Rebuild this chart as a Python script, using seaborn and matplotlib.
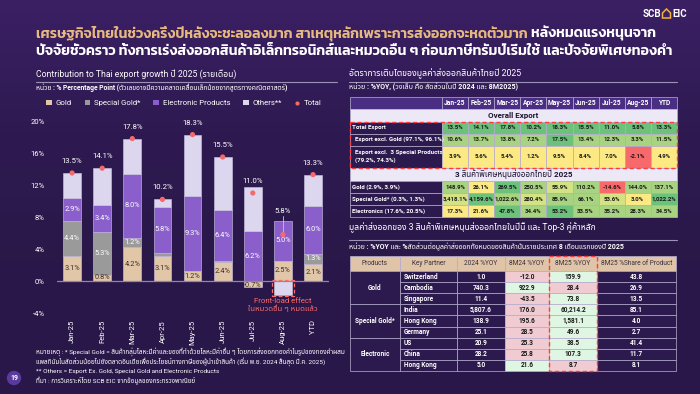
import matplotlib
matplotlib.use("Agg")
import matplotlib.pyplot as plt
from matplotlib.patches import Rectangle, Patch, Circle, Polygon
from matplotlib.lines import Line2D
from matplotlib.colors import LinearSegmentedColormap
import numpy as np
import seaborn as sns

# ---------------- data ----------------
months = ["Jan-25", "Feb-25", "Mar-25", "Apr-25", "May-25", "Jun-25", "Jul-25", "Aug-25", "YTD"]
gold = [3.1, 0.8, 4.2, 3.1, 1.2, 2.4, -0.7, 2.5, 2.1]
special_gold = [4.4, 5.3, 1.2, 0.4, 0.1, 0.1, 0.0, 0.0, 1.3]
electronics = [2.9, 3.4, 8.0, 5.8, 9.3, 6.4, 6.2, 5.0, 6.0]
others = [3.1, 4.6, 4.4, 0.9, 7.7, 6.6, 5.5, -1.7, 3.9]
totals = [13.5, 14.1, 17.8, 10.2, 18.3, 15.5, 11.0, 5.8, 13.3]
y_ticks = [-4, 0, 4, 8, 12, 16, 20]

t1_cols = ["Jan-25", "Feb-25", "Mar-25", "Apr-25", "May-25", "Jun-25", "Jul-25", "Aug-25", "YTD"]
t1_rows_a = ["Total Export", "Export excl. Gold (97.1%, 96.1%)",
             "Export excl.  3 Special Products\n(79.2%, 74.3%)"]
t1_vals_a = [
    [13.5, 14.1, 17.8, 10.2, 18.3, 15.5, 11.0, 5.8, 13.3],
    [10.6, 13.7, 13.8, 7.2, 17.5, 13.4, 12.3, 3.3, 11.5],
    [3.9, 5.6, 5.4, 1.2, 9.5, 8.4, 7.0, -2.1, 4.9],
]
t1_rows_b = ["Gold (2.9%, 3.9%)", "Special Gold* (0.3%, 1.3%)", "Electronics (17.6%, 20.5%)"]
t1_vals_b = [
    [148.9, 26.1, 269.5, 250.5, 55.9, 110.2, -14.6, 144.0, 137.1],
    [3418.1, 4159.6, 1022.6, 280.4, 85.9, 66.1, 53.6, 3.0, 1022.2],
    [17.3, 21.6, 47.8, 34.4, 53.2, 33.5, 35.2, 28.3, 34.5],
]

t2_header = ["Products", "Key Partner", "2024 %YOY", "8M24 %YOY", "8M25 %YOY", "8M25 %Share of Product"]
t2_products = ["Gold", "Special Gold*", "Electronic"]
t2_partners = ["Switzerland", "Cambodia", "Singapore", "India", "Hong Kong", "Germany",
               "US", "China", "Hong Kong"]
t2_2024 = [1.0, 740.3, 11.4, 5807.6, 138.9, 25.1, 20.9, 28.2, 5.0]
t2_8m24 = [-12.0, 922.9, -43.5, 176.0, 195.6, 28.5, 25.3, 25.8, 21.6]
t2_8m25 = [159.9, 28.4, 73.8, 60214.2, 1581.1, 49.6, 38.5, 107.3, 8.7]
t2_share = [43.8, 26.9, 13.5, 85.1, 4.0, 2.7, 41.4, 11.7, 8.1]

# ---------------- style ----------------
sns.set_theme(style="white")
plt.rcParams["font.family"] = ["Roboto", "Noto Sans Thai"]
TITLE_FONT = ["Kanit", "Noto Sans Thai"]

C_GOLD = "#e2c6a8"
C_SG = "#9a9a9a"
C_ELEC = "#8a5fcc"
C_OTH = "#dcd7ee"
C_TOT = "#f46a6a"
GRID = "#b9b0d2"
HEAT = {"g": "#6cc17b", "lg": "#a8d380", "yg": "#d3e283", "y": "#fde984", "r": "#f8696b"}
heat_a = [["g"] * 9,
          ["lg", "lg", "lg", "lg", "g", "lg", "lg", "lg", "lg"],
          ["y"] * 7 + ["r", "y"]]
heat_b = [["lg", "y", "g", "lg", "yg", "lg", "r", "lg", "lg"],
          ["yg", "g", "lg", "yg", "lg", "lg", "yg", "y", "g"],
          ["y", "y", "g", "lg", "g", "lg", "lg", "lg", "lg"]]

W, H = 700, 394
fig = plt.figure(figsize=(7, 3.94), dpi=100)

# overlay axes in pixel coordinates
ov = fig.add_axes([0, 0, 1, 1], zorder=0)
ov.set_xlim(0, W)
ov.set_ylim(H, 0)
ov.axis("off")

grad = np.linspace(0, 1, 200)[:, None]
bg_cmap = LinearSegmentedColormap.from_list("bg", ["#3b2064", "#2e1a51", "#2a1849", "#29174a"])
ov.imshow(grad, aspect="auto", cmap=bg_cmap, extent=[0, W, H, 0], zorder=0)

# ---------------- header ----------------
t_gold = ov.text(36, 37, "เศรษฐกิจไทยในช่วงครึ่งปีหลังจะชะลอลงมาก สาเหตุหลักเพราะการส่งออกจะหดตัวมาก",
                 color="#e7b980", fontsize=10.2, family=TITLE_FONT, weight="semibold", va="baseline")
ov.annotate(" หลังหมดแรงหนุนจาก", xy=(1, 0), xycoords=t_gold, color="white", fontsize=10.2,
            family=TITLE_FONT, weight="semibold", va="bottom", ha="left")
ov.text(36, 55, "ปัจจัยชั่วคราว ทั้งการเร่งส่งออกสินค้าอิเล็กทรอนิกส์และหมวดอื่น ๆ ก่อนภาษีทรัมป์เริ่มใช้ และปัจจัยพิเศษทองคำ",
        color="white", fontsize=10.2, family=TITLE_FONT, weight="semibold", va="baseline")

ov.text(661, 14, "SCB", color="white", fontsize=7, weight="bold", ha="right", va="center")
ov.text(672, 14, "EIC", color="white", fontsize=7, weight="bold", ha="left", va="center")
ov.add_patch(Polygon([[662.5, 18], [662.5, 13], [666.5, 9], [670.5, 13], [670.5, 18]],
                     closed=True, fill=False, edgecolor="#f2b03a", linewidth=1.1))

# ---------------- left chart titles ----------------
ov.text(36, 74, "Contribution to Thai export growth ปี 2025 (รายเดือน)", color="white", fontsize=6.2, va="center")
ov.plot([36, 337], [82, 82], color="#9d93b8", lw=0.8)
ov.text(36, 88, "หน่วย : % Percentage Point (ตัวเลขอาจมีความคลาดเคลื่อนเล็กน้อยจากสูตรทางคณิตศาสตร์)",
        color="white", fontsize=4.9, weight="bold", va="center")

# ---------------- chart ----------------
ax = fig.add_axes([57 / W, 1 - 313 / H, (329 - 57) / W, (313 - 121) / H], zorder=2)
ax.patch.set_alpha(0)

n = len(months)
layers = [("Gold", gold, C_GOLD, "#3a2f2a"),
          ("Special Gold*", special_gold, C_SG, "white"),
          ("Electronic Products", electronics, C_ELEC, "white"),
          ("Others**", others, C_OTH, None)]
pos_base = np.zeros(n)
neg_base = np.zeros(n)
for name, vals, color, tcol in layers:
    v = np.array(vals, dtype=float)
    bottom = np.where(v >= 0, pos_base, neg_base)
    sns.barplot(x=months, y=v, bottom=bottom, color=color, width=0.59, saturation=1,
                edgecolor="#cfc8e2", linewidth=0.4, errorbar=None, ax=ax)
    if tcol is not None:
        for i in range(n):
            if abs(v[i]) >= 0.5:
                ax.text(i, bottom[i] + v[i] / 2 - (0.25 if v[i] < 0 else 0), f"{v[i]:.1f}%",
                        ha="center", va="center", fontsize=5.3, color=tcol, zorder=6)
    pos_base = np.where(v >= 0, pos_base + v, pos_base)
    neg_base = np.where(v < 0, neg_base + v, neg_base)

tops = pos_base
sns.scatterplot(x=np.arange(n), y=totals, color=C_TOT, s=14, edgecolor="none", zorder=7, ax=ax, legend=False)
for i, t in enumerate(totals):
    if t + 1.5 > tops[i] + 0.6:
        ly = t + 1.5
    else:
        ly = tops[i] + 1.2
        ax.plot([i, i], [ly - 0.55, t + 0.3], color="#c9c1dd", lw=0.6, zorder=6)
    ax.text(i, ly, f"{t:.1f}%", ha="center", va="center", fontsize=5.6, color="white", zorder=6)

# front-load box around negative Aug "others"
aug = months.index("Aug-25")
ov_val = others[aug]
ax.add_patch(Rectangle((aug - 0.36, ov_val - 0.2), 0.72, -ov_val + 0.3, fill=False,
                       edgecolor="#ff6b6b", lw=0.9, ls=(0, (3, 2)), zorder=8))
ax.text(aug, ov_val - 0.45, "Front-load effect\nในหมวดอื่น ๆ หมดแล้ว", ha="center", va="top",
        color="#ff6b6b", fontsize=5.6, linespacing=1.0, zorder=8)

ax.axhline(0, color="#8f86a8", lw=0.9, zorder=1)
ax.set_ylim(-4, 20)
ax.set_xlim(-0.5, 8.53)
ax.set_yticks(y_ticks)
ax.set_yticklabels([f"{t}%" for t in y_ticks])
ax.set_xticks(range(n))
ax.set_xticklabels(months, rotation=90)
ax.tick_params(axis="both", colors="white", labelsize=5.5, length=0)
ax.tick_params(axis="y", pad=9)
ax.tick_params(axis="x", pad=5)
for s in ax.spines.values():
    s.set_visible(False)
ax.grid(False)
ax.set_xlabel("")
ax.set_ylabel("")

handles = [Patch(facecolor=C_GOLD, edgecolor="none"), Patch(facecolor=C_SG, edgecolor="none"),
           Patch(facecolor=C_ELEC, edgecolor="none"), Patch(facecolor=C_OTH, edgecolor="none"),
           Line2D([], [], marker="o", color="none", markerfacecolor=C_TOT, markeredgecolor="none", markersize=3)]
fig.legend(handles, ["Gold", "Special Gold*", "Electronic Products", "Others**", "Total"],
           loc="center", bbox_to_anchor=(184 / W, 1 - 103 / H), ncol=5, frameon=False,
           fontsize=5.6, labelcolor="white", handlelength=0.75, handleheight=0.75,
           handletextpad=0.5, columnspacing=1.6)

# ---------------- footnotes ----------------
foot = ["หมายเหตุ : * Special Gold = สินค้ากลุ่มโลหะมีค่าและของที่ทำด้วยโลหะมีค่าอื่น ๆ โดยการส่งออกทองคำในรูปของทองคำผสม",
        "แพลทินัมในสัดส่วนน้อยไปยังตลาดอินเดียเพื่อประโยชน์ทางภาษีของผู้นำเข้าสินค้า (เริ่ม พ.ย. 2024 สิ้นสุด มี.ค. 2025)",
        "** Others = Export Ex. Gold, Special Gold and Electronic Products",
        "ที่มา : การวิเคราะห์โดย SCB EIC จากข้อมูลของกระทรวงพาณิชย์"]
for k, line in enumerate(foot):
    ov.text(36, 352 + k * 9.5, line, color="white", fontsize=4.6, va="center")
ov.add_patch(Circle((14, 378), 6.5, color="#5b3a9e"))
ov.text(14, 378, "19", color="white", fontsize=5, ha="center", va="center", weight="bold")

# ---------------- right: table 1 ----------------
def fmt(v):
    return f"{v:,.1f}%"

ov.text(349, 74, "อัตราการเติบโตของมูลค่าส่งออกสินค้าไทยปี 2025", color="white", fontsize=6.3, va="center")
ov.plot([349, 677], [82, 82], color="#9d93b8", lw=0.8)
ov.text(349, 87.5, "หน่วย : %YOY, (วงเล็บ คือ สัดส่วนในปี 2024 และ 8M2025)", color="white",
        fontsize=5.1, weight="bold", va="center")

x0, lab_w, cw = 350, 92, 26.1
x_end = x0 + lab_w + cw * 9

def cell(x, y, w, h, fc, ec=GRID, lw=0.5):
    ov.add_patch(Rectangle((x, y), w, h, facecolor=fc, edgecolor=ec, linewidth=lw, zorder=2))

# header
cell(x0, 97, lab_w, 12, "#4a2e84")
for j, c in enumerate(t1_cols):
    cell(x0 + lab_w + j * cw, 97, cw, 12, "#4a2e84")
    ov.text(x0 + lab_w + (j + 0.5) * cw, 103, c, color="white", fontsize=4.8, weight="bold",
            ha="center", va="center", zorder=3)

def section(y, h, title):
    cell(x0, y, x_end - x0, h, "#ece8f6")
    ov.text((x0 + x_end) / 2, y + h / 2, title, color="#1e1530", fontsize=5.8, weight="bold",
            ha="center", va="center", zorder=3)

def body(y_start, heights, rows, vals, heat, indent):
    y = y_start
    for r, (lab, hh) in enumerate(zip(rows, heights)):
        cell(x0, y, lab_w, hh, "#2c1a4e")
        ov.text(x0 + 1.5 + indent[r], y + hh / 2, lab, color="white", fontsize=4.4, weight="bold",
                ha="left", va="center", zorder=3, linespacing=1.6)
        for j, v in enumerate(vals[r]):
            cell(x0 + lab_w + j * cw, y, cw, hh, HEAT[heat[r][j]])
            ov.text(x0 + lab_w + (j + 0.5) * cw, y + hh / 2, fmt(v), color="#1a1a1a", fontsize=4.3,
                    weight="bold", ha="center", va="center", zorder=3)
        y += hh
    return y

section(109, 12.5, "Overall Export")
y_end = body(121.5, [12, 12, 22.5], t1_rows_a, t1_vals_a, heat_a, [0, 3.5, 3.5])
ov.add_patch(Rectangle((x0, 121.5), x_end - x0, y_end - 121.5, fill=False, edgecolor="#ff3b3b",
                       lw=1.0, ls=(0, (3, 2)), zorder=4))
section(y_end, 13, "3 สินค้าพิเศษหนุนส่งออกไทยปี 2025")
body(y_end + 13, [12, 12, 12], t1_rows_b, t1_vals_b, heat_b, [0, 0, 0])

# ---------------- right: table 2 ----------------
ov.text(349, 228, "มูลค่าส่งออกของ 3 สินค้าพิเศษหนุนส่งออกไทยในปีนี้ และ Top-3 คู่ค้าหลัก", color="white",
        fontsize=6.2, va="center")
ov.plot([349, 677], [240, 240], color="#9d93b8", lw=0.8)
ov.text(349, 247.5, "หน่วย : %YOY และ %สัดส่วนต่อมูลค่าส่งออกทั้งหมดของสินค้านั้นรายประเทศ 8 เดือนแรกของปี 2025",
        color="white", fontsize=5.0, weight="bold", va="center")

edges = [350, 400, 457, 505, 549, 597, 676]
hy, hh2, rh = 256, 15, 11.1
for j, name in enumerate(t2_header):
    cell(edges[j], hy, edges[j + 1] - edges[j], hh2, "#dfc4a7")
    ov.text((edges[j] + edges[j + 1]) / 2, hy + hh2 / 2, name, color="#3b3040", fontsize=4.7,
            ha="center", va="center", zorder=3)

PINK, MINT = "#f1cbd2", "#dff6e2"
y_rows = hy + hh2
for g, prod in enumerate(t2_products):
    cell(edges[0], y_rows + g * 3 * rh, edges[1] - edges[0], 3 * rh, "#2c1a4e")
    ov.text((edges[0] + edges[1]) / 2, y_rows + (g * 3 + 1.5) * rh, prod, color="white", fontsize=4.7,
            weight="bold", ha="center", va="center", zorder=3)
for i, partner in enumerate(t2_partners):
    y = y_rows + i * rh
    a, b = t2_8m24[i], t2_8m25[i]
    fills = ["#2c1a4e", "#2c1a4e", MINT if a > b else PINK, MINT if b > a else PINK, "#2c1a4e"]
    texts = [partner, f"{t2_2024[i]:,.1f}", f"{a:,.1f}", f"{b:,.1f}", f"{t2_share[i]:,.1f}"]
    for j in range(5):
        cell(edges[j + 1], y, edges[j + 2] - edges[j + 1], rh, fills[j])
        dark = fills[j] in (PINK, MINT)
        if j == 0:
            ov.text(edges[1] + 4, y + rh / 2, texts[j], color="white", fontsize=4.7, weight="bold",
                    ha="left", va="center", zorder=3)
        else:
            ov.text((edges[j + 1] + edges[j + 2]) / 2, y + rh / 2, texts[j],
                    color="#1a1a1a" if dark else "white", fontsize=4.7, weight="bold",
                    ha="center", va="center", zorder=3)
ov.add_patch(Rectangle((edges[4], hy), edges[5] - edges[4], y_rows + 9 * rh - hy, fill=False,
                       edgecolor="#ff3b3b", lw=1.0, ls=(0, (3, 2)), zorder=4))

fig.savefig("out.png", dpi=100, facecolor=fig.get_facecolor())
